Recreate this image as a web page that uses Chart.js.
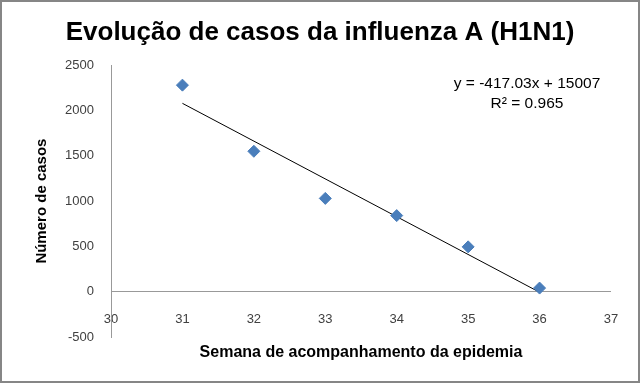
<!DOCTYPE html>
<html>
<head>
<meta charset="utf-8">
<script src="https://cdn.jsdelivr.net/npm/chart.js@4"></script>
<style>
  html, body { margin: 0; padding: 0; background: #fff; }
  #wrap { width: 640px; height: 383px; position: relative; }
</style>
</head>
<body>
<div id="wrap"><canvas id="chart" width="640" height="383"></canvas></div>
<script>
// semanas e casos
const semanas = [31, 32, 33, 34, 35, 36];
const casos = [2280, 1550, 1030, 840, 495, 40];
// linha de tendência (equação mostrada no gráfico)
const slope = -417.03;
const intercept = 15007;
const r2 = 0.965;
const xTicks = [30, 31, 32, 33, 34, 35, 36, 37];
const yTicks = [-500, 0, 500, 1000, 1500, 2000, 2500];

const pontos = semanas.map((s, i) => ({ x: s, y: casos[i] }));
const xIni = semanas[0], xFim = semanas[semanas.length - 1];
const tendencia = [
  { x: xIni, y: slope * xIni + intercept },
  { x: xFim, y: slope * xFim + intercept }
];

const fonte = '"Liberation Sans", Arial, sans-serif';

const fundo = {
  id: 'fundo',
  beforeDraw(chart) {
    const c = chart.ctx;
    c.save();
    c.fillStyle = '#fff';
    c.fillRect(0, 0, chart.width, chart.height);
    c.restore();
  },
  afterDraw(chart) {
    const c = chart.ctx;
    c.save();
    c.strokeStyle = '#868686';
    c.lineWidth = 2;
    c.strokeRect(1, 1, chart.width - 2, chart.height - 2);
    // rótulo da tendência
    c.fillStyle = '#000';
    c.font = '15.5px ' + fonte;
    c.textAlign = 'center';
    c.textBaseline = 'middle';
    c.fillText('y = ' + slope + 'x + ' + intercept, 527, 84);
    c.fillText('R² = ' + r2, 527, 104);
    c.restore();
  }
};

new Chart(document.getElementById('chart'), {
  type: 'scatter',
  data: {
    datasets: [{
      label: 'Casos',
      data: pontos,
      pointStyle: 'rectRot',
      pointRadius: 6,
      pointHoverRadius: 6,
      backgroundColor: '#4A7EBB',
      borderColor: '#4A7EBB',
      borderWidth: 1
    }, {
      type: 'line',
      label: 'Tendência',
      data: tendencia,
      borderColor: '#000',
      borderWidth: 1,
      pointRadius: 0,
      fill: false
    }]
  },
  plugins: [fundo],
  options: {
    responsive: false,
    animation: false,
    layout: { padding: 0 },
    plugins: {
      legend: { display: false },
      tooltip: { enabled: false },
      title: {
        display: true,
        text: 'Evolução de casos da influenza A (H1N1)',
        color: '#000',
        font: { family: fonte, size: 26, weight: 'bold', lineHeight: 1.2 },
        padding: { top: 17, bottom: 17 }
      }
    },
    scales: {
      x: {
        type: 'linear',
        position: 'bottom',
        min: 30,
        max: 37,
        afterBuildTicks(scale) { scale.ticks = xTicks.map(v => ({ value: v })); },
        afterFit(scale) { scale.height = 46; },
        grid: { display: false, drawTicks: false },
        border: { display: false },
        ticks: {
          color: '#404040',
          mirror: true,
          padding: 10,
          autoSkip: false,
          maxRotation: 0,
          callback: v => String(v),
          font: { family: fonte, size: 13 }
        },
        title: {
          display: true,
          text: 'Semana de acompanhamento da epidemia',
          color: '#000',
          font: { family: fonte, size: 16, weight: 'bold', lineHeight: 1.2 },
          padding: { top: 0, bottom: 21 }
        }
      },
      y: {
        min: -500,
        max: 2500,
        afterBuildTicks(scale) { scale.ticks = yTicks.map(v => ({ value: v })); },
        afterFit(scale) { scale.width = 111; },
        grid: {
          drawTicks: false,
          color: ctx => (ctx.tick && ctx.tick.value === 0 ? '#999' : 'rgba(0,0,0,0)')
        },
        border: { display: true, color: '#999' },
        ticks: {
          color: '#404040',
          padding: 17,
          callback: v => String(v),
          font: { family: fonte, size: 13 }
        },
        title: {
          display: true,
          text: 'Número de casos',
          color: '#000',
          font: { family: fonte, size: 15, weight: 'bold', lineHeight: 1.2 },
          padding: { top: 33, bottom: 0 }
        }
      },
      margem: {
        type: 'linear',
        position: 'right',
        display: true,
        afterFit(scale) { scale.width = 29; },
        grid: { display: false, drawTicks: false },
        border: { display: false },
        ticks: { display: false }
      }
    }
  }
});
</script>
</body>
</html>
